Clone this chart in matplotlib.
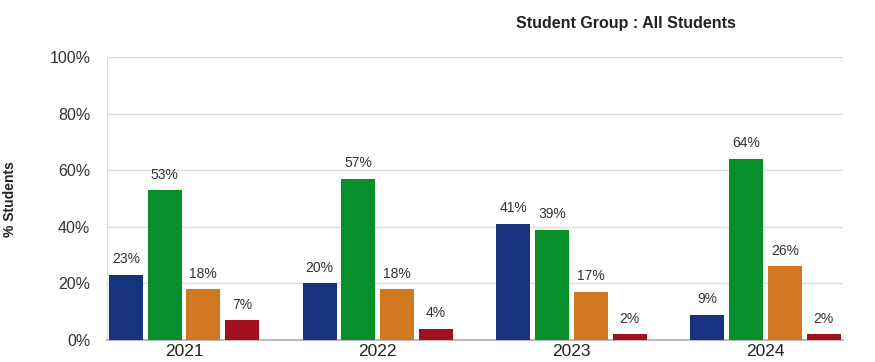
import matplotlib
matplotlib.use("Agg")
import matplotlib.pyplot as plt
import numpy as np

years = ["2021", "2022", "2023", "2024"]
level1 = [23, 20, 41, 9]
level2 = [53, 57, 39, 64]
level3 = [18, 18, 17, 26]
level4 = [7, 4, 2, 2]
series = [level1, level2, level3, level4]
colors = ["#17337f", "#078f2a", "#d17822", "#a0101e"]
yticks = [0, 20, 40, 60, 80, 100]

plt.rcParams["font.family"] = ["Liberation Sans", "DejaVu Sans"]

fig = plt.figure(figsize=(8.75, 3.62), dpi=100)
ax = fig.add_axes([0.1223, 0.0608, 0.8411, 0.7817])

x = np.arange(len(years))
width = 0.1755
step = 0.2
offsets = (np.arange(len(series)) - 1.5) * step
for vals, off, col in zip(series, offsets, colors):
    ax.bar(x + off, vals, width=width, color=col, zorder=3)
    for xi, v in zip(x, vals):
        ax.text(xi + off, v + 3, f"{v}%", ha="center", va="bottom",
                fontsize=10, color="#333333", zorder=4)

ax.set_xlim(-0.397, 3.40)
ax.set_ylim(0, 100)
ax.set_yticks(yticks)
ax.set_yticklabels([f"{t}%" for t in yticks], fontsize=11.5, color="#333333")
ax.set_xticks(x)
ax.set_xticklabels(years, fontsize=12.5, color="#222222")
ax.tick_params(axis="both", length=0)
ax.tick_params(axis="x", pad=3)
ax.tick_params(axis="y", pad=12)
ax.grid(axis="y", color="#dddddd", linewidth=1, zorder=0)
for s in ["top", "right"]:
    ax.spines[s].set_visible(False)
ax.spines["left"].set_color("#dddddd")
ax.spines["bottom"].set_color("#bbbbbb")
ax.spines["bottom"].set_linewidth(1.5)

fig.text(0.715, 0.935, "Student Group : All Students", ha="center", va="center",
         fontsize=11.5, fontweight="bold", color="#222222")
fig.text(0.012, 0.45, "% Students", rotation=90, ha="center", va="center",
         fontsize=10, fontweight="bold", color="#222222")

fig.savefig("out.png", dpi=100)
